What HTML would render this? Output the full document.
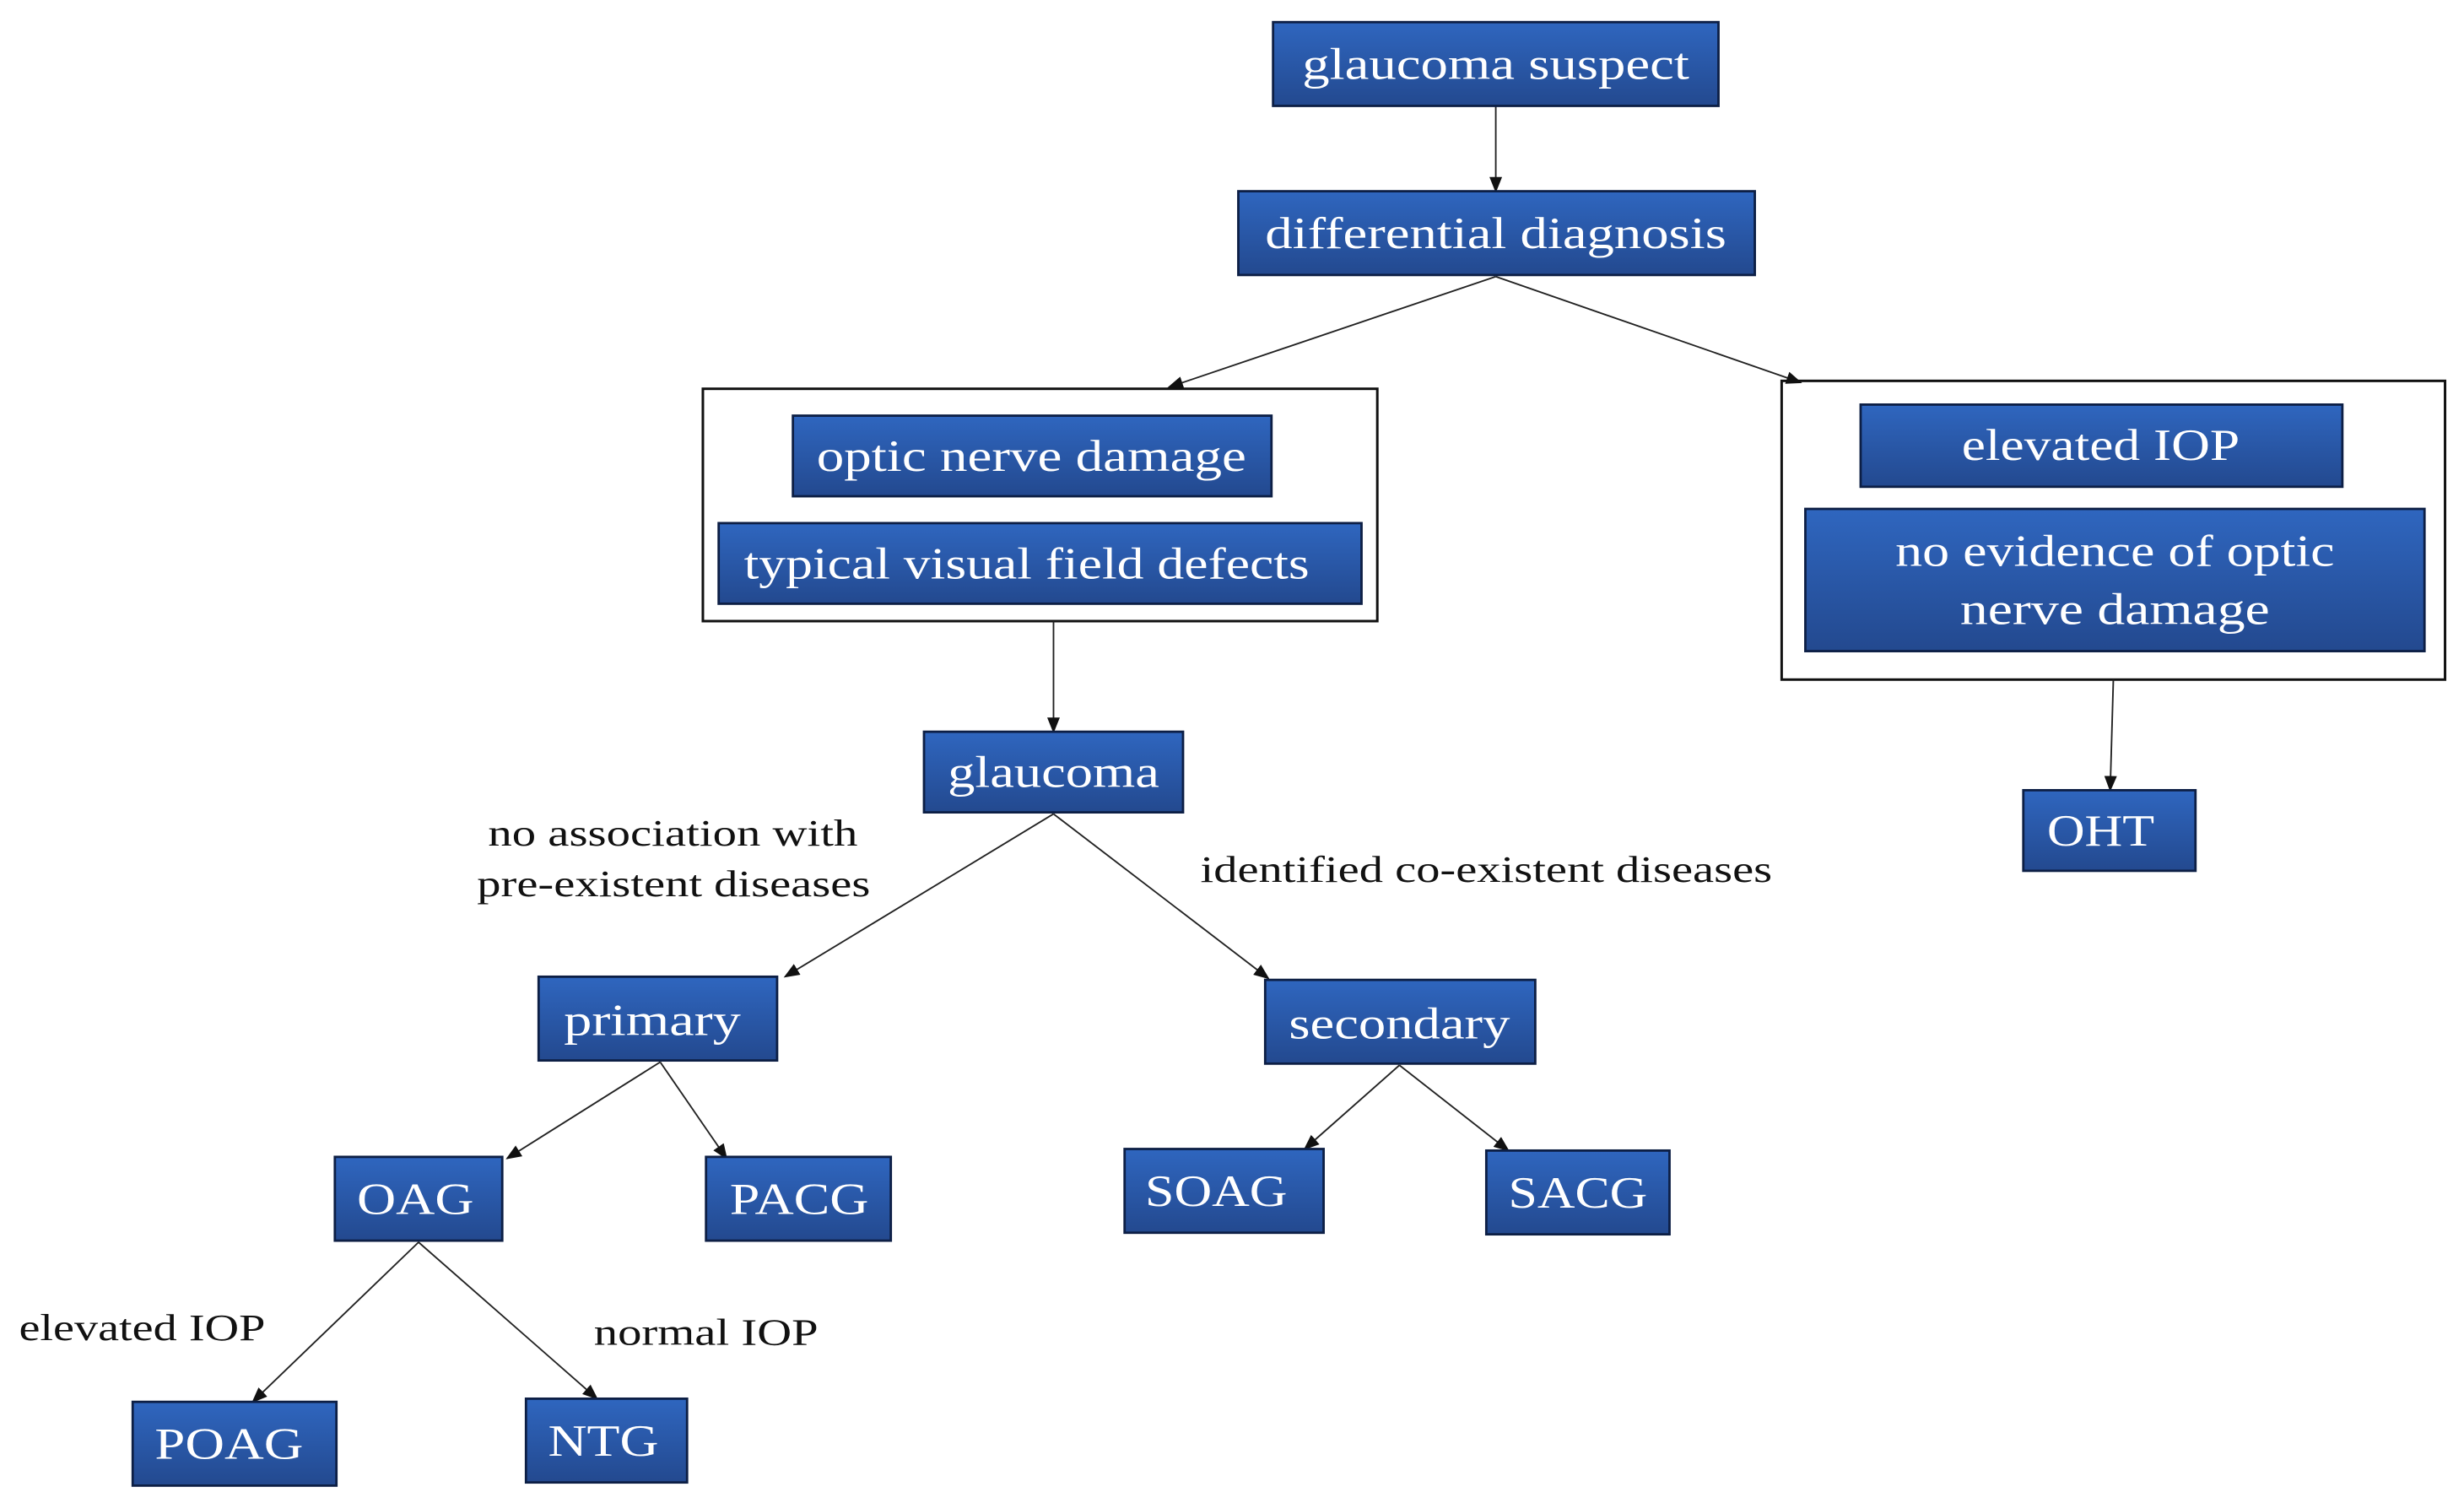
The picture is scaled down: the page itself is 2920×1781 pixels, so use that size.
<!DOCTYPE html>
<html><head><meta charset="utf-8"><style>
html,body{margin:0;padding:0;background:#fff;}
svg{display:block;}
text{font-family:"Liberation Serif",serif;}
.b{fill:url(#g);stroke:#0d1f45;stroke-width:1.5;}
.t{fill:#fff;font-size:28px;text-anchor:middle;}
.l{fill:#111;font-size:24px;}
.c{stroke:#222;stroke-width:1;fill:none;marker-end:url(#a);}
.o{fill:none;stroke:#111;stroke-width:1.6;}
</style></head><body>
<svg width="2920" height="1781" viewBox="0 0 1560 951" preserveAspectRatio="none">
<defs>
<linearGradient id="g" x1="0" y1="0" x2="0" y2="1"><stop offset="0" stop-color="#2f66bf"/><stop offset="1" stop-color="#23498f"/></linearGradient>
<marker id="a" markerWidth="10" markerHeight="10" refX="9" refY="5" orient="auto" markerUnits="userSpaceOnUse"><path d="M0,1 L10,5 L0,9 z" fill="#111"/></marker>
</defs>
<rect class="o" x="445" y="246" width="427" height="147"/>
<rect class="o" x="1128" y="241" width="420" height="189"/>
<line class="c" x1="947" y1="67" x2="947" y2="121"/>
<line class="c" x1="947" y1="175" x2="740" y2="245"/>
<line class="c" x1="947" y1="175" x2="1140" y2="242"/>
<line class="c" x1="667" y1="393" x2="667" y2="463"/>
<line class="c" x1="1338" y1="430" x2="1336" y2="500"/>
<line class="c" x1="667" y1="515" x2="497" y2="618"/>
<line class="c" x1="667" y1="515" x2="803" y2="619"/>
<line class="c" x1="418" y1="672" x2="321" y2="733"/>
<line class="c" x1="418" y1="672" x2="460" y2="733"/>
<line class="c" x1="886" y1="674" x2="826" y2="727"/>
<line class="c" x1="886" y1="674" x2="955" y2="728"/>
<line class="c" x1="265" y1="786" x2="160" y2="887"/>
<line class="c" x1="265" y1="786" x2="378" y2="885"/>

<rect class="b" x="806" y="14" width="282" height="53"/><text class="t" x="947" y="50" textLength="245" lengthAdjust="spacingAndGlyphs">glaucoma suspect</text>
<rect class="b" x="784" y="121" width="327" height="53"/><text class="t" x="947" y="157" textLength="292" lengthAdjust="spacingAndGlyphs">differential diagnosis</text>
<rect class="b" x="502" y="263" width="303" height="51"/><text class="t" x="653" y="298" textLength="272" lengthAdjust="spacingAndGlyphs">optic nerve damage</text>
<rect class="b" x="455" y="331" width="407" height="51"/><text class="t" x="650" y="366" textLength="358" lengthAdjust="spacingAndGlyphs">typical visual field defects</text>
<rect class="b" x="1178" y="256" width="305" height="52"/><text class="t" x="1330" y="291" textLength="176" lengthAdjust="spacingAndGlyphs">elevated IOP</text>
<rect class="b" x="1143" y="322" width="392" height="90"/><text class="t" x="1339" y="358" textLength="278" lengthAdjust="spacingAndGlyphs">no evidence of optic</text><text class="t" x="1339" y="395" textLength="196" lengthAdjust="spacingAndGlyphs">nerve damage</text>
<rect class="b" x="585" y="463" width="164" height="51"/><text class="t" x="667" y="498" textLength="134" lengthAdjust="spacingAndGlyphs">glaucoma</text>
<rect class="b" x="1281" y="500" width="109" height="51"/><text class="t" x="1330" y="535" textLength="68" lengthAdjust="spacingAndGlyphs">OHT</text>
<rect class="b" x="341" y="618" width="151" height="53"/><text class="t" x="413" y="655" textLength="112" lengthAdjust="spacingAndGlyphs">primary</text>
<rect class="b" x="801" y="620" width="171" height="53"/><text class="t" x="886" y="657" textLength="140" lengthAdjust="spacingAndGlyphs">secondary</text>
<rect class="b" x="212" y="732" width="106" height="53"/><text class="t" x="263" y="768" textLength="74" lengthAdjust="spacingAndGlyphs">OAG</text>
<rect class="b" x="447" y="732" width="117" height="53"/><text class="t" x="506" y="768" textLength="88" lengthAdjust="spacingAndGlyphs">PACG</text>
<rect class="b" x="712" y="727" width="126" height="53"/><text class="t" x="770" y="763" textLength="90" lengthAdjust="spacingAndGlyphs">SOAG</text>
<rect class="b" x="941" y="728" width="116" height="53"/><text class="t" x="999" y="764" textLength="88" lengthAdjust="spacingAndGlyphs">SACG</text>
<rect class="b" x="84" y="887" width="129" height="53"/><text class="t" x="145" y="923" textLength="94" lengthAdjust="spacingAndGlyphs">POAG</text>
<rect class="b" x="333" y="885" width="102" height="53"/><text class="t" x="382" y="921" textLength="70" lengthAdjust="spacingAndGlyphs">NTG</text>

<text class="l" x="309" y="535" textLength="234" lengthAdjust="spacingAndGlyphs">no association with</text>
<text class="l" x="302" y="567" textLength="249" lengthAdjust="spacingAndGlyphs">pre-existent diseases</text>
<text class="l" x="760" y="558" textLength="362" lengthAdjust="spacingAndGlyphs">identified co-existent diseases</text>
<text class="l" x="12" y="848" textLength="156" lengthAdjust="spacingAndGlyphs">elevated IOP</text>
<text class="l" x="376" y="851" textLength="142" lengthAdjust="spacingAndGlyphs">normal IOP</text>
</svg>
</body></html>
